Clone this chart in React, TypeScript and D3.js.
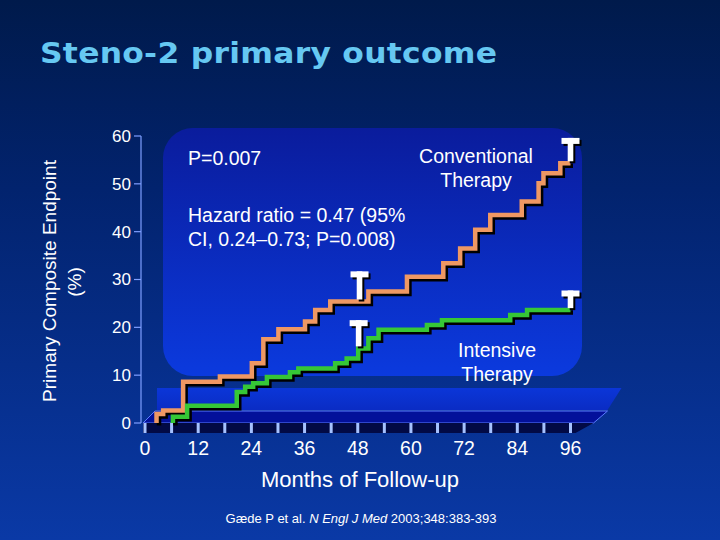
import * as d3 from 'd3';

// Kaplan-Meier style step data
const conventionalMonths = [2.6, 4.1, 8.6, 16.9, 24.1, 26.7, 30.1, 36.1, 38.4, 41.8, 50.4, 59.1, 67.3, 71.1, 74.5, 77.9, 85.0, 88.8, 89.9, 93.7];
const conventionalValues = [1.9, 2.6, 8.6, 9.7, 12.5, 17.5, 19.6, 21.2, 23.6, 25.4, 27.5, 30.6, 33.4, 36.5, 40.4, 43.5, 46.3, 50.1, 52.2, 54.3];
const intensiveMonths = [6.3, 9.5, 20.7, 22.6, 24.4, 27.5, 32.7, 34.6, 42.9, 45.5, 48.1, 50.4, 52.7, 63.6, 67.0, 82.4, 86.2];
const intensiveValues = [1.3, 3.6, 6.5, 7.6, 8.3, 9.6, 10.6, 11.4, 12.5, 13.5, 15.6, 17.7, 19.5, 20.5, 21.5, 22.6, 23.6];
const followUpEnd = 96;

// white "T" marks: month and the top of the bar (%)
const conventionalMarkMonths = [48.4, 96];
const conventionalMarkTops = [31.7, 59.6];
const intensiveMarkMonths = [48.2, 96];
const intensiveMarkTops = [21.5, 27.7];

const yTicks = [0, 10, 20, 30, 40, 50, 60];
const xTicks = [0, 12, 24, 36, 48, 60, 72, 84, 96];

const W = 720;
const H = 540;

const x = d3.scaleLinear().domain([0, 96]).range([145, 570.5]);
const y = d3.scaleLinear().domain([0, 60]).range([423, 136]);

const font = '"Liberation Sans", Arial, sans-serif';
const orange = '#ef9863';
const green = '#36c736';
const axisBlue = '#7f9fff';

const stepLine = d3.line<[number, number]>()
  .x((d) => x(d[0]))
  .y((d) => y(d[1]))
  .curve(d3.curveStepAfter);

const buildPoints = (months: number[], values: number[]): [number, number][] => {
  const pts: [number, number][] = [[months[0], 0]];
  months.forEach((m, i) => pts.push([m, values[i]]));
  pts.push([followUpEnd, values[values.length - 1]]);
  return pts;
};

const valueAt = (months: number[], values: number[], m: number) => {
  const i = d3.bisectRight(months, m) - 1;
  return i < 0 ? 0 : values[i];
};

const Curve = ({ months, values, color }: { months: number[]; values: number[]; color: string }) => {
  const d = stepLine(buildPoints(months, values)) || '';
  return (
    <g>
      <path d={d} transform="translate(2.5,2.5)" fill="none" stroke="#000" strokeWidth={4.5} />
      <path d={d} fill="none" stroke={color} strokeWidth={4.5} strokeLinejoin="miter" />
    </g>
  );
};

const Marks = ({ months, tops, lineMonths, lineValues }: { months: number[]; tops: number[]; lineMonths: number[]; lineValues: number[] }) => (
  <g>
    {months.map((m, i) => {
      const cx = x(m);
      const yTop = y(tops[i]);
      const yBottom = y(valueAt(lineMonths, lineValues, m)) - 2;
      const shape = (
        <>
          <rect x={cx - 2.8} y={yTop} width={5.6} height={yBottom - yTop} />
          <rect x={cx - 9} y={yTop} width={18} height={6} />
        </>
      );
      return (
        <g key={i}>
          <g fill="#000" transform="translate(2,2)">{shape}</g>
          <g fill="#fff">{shape}</g>
        </g>
      );
    })}
  </g>
);

export default function App() {
  const x0 = x(0);
  const x96 = x(96);
  const y0 = y(0);

  return (
    <svg width={W} height={H} style={{ position: 'absolute', left: 0, top: 0, display: 'block' }}>
      <defs>
        <linearGradient id="bg" x1="0" y1="0" x2="0" y2="1">
          <stop offset="0" stopColor="#001a4b" />
          <stop offset="0.35" stopColor="#02236e" />
          <stop offset="1" stopColor="#0a39a6" />
        </linearGradient>
        <linearGradient id="panel" x1="0" y1="0" x2="0" y2="1">
          <stop offset="0" stopColor="#0a1c9c" />
          <stop offset="1" stopColor="#0b3ade" />
        </linearGradient>
        <linearGradient id="band" x1="0" y1="0" x2="0" y2="1">
          <stop offset="0" stopColor="#0b36d8" />
          <stop offset="1" stopColor="#0a2cc4" />
        </linearGradient>
      </defs>

      <rect width={W} height={H} fill="url(#bg)" />

      {/* rounded back panel */}
      <rect x={163} y={128} width={419} height={248} rx={30} fill="url(#panel)" />

      {/* back wall band behind the floor */}
      <path d={`M${x0 + 12},388 L${x96 + 51},388 L${x96 + 37},410 L${x0 + 12},410 Z`} fill="url(#band)" />

      {/* floor: top face */}
      <path
        d={`M${x0 - 2},${y0} L${x0 + 10},${y0 - 12} L${x96 + 37},${y0 - 12} L${x96 + 23},${y0} Z`}
        fill="#03109a"
        stroke="#5c7cff"
        strokeWidth={1}
      />
      {/* floor: front and side faces */}
      <path d={`M${x0 - 2},${y0} L${x96 + 23},${y0} L${x96 + 5},${y0 + 10} L${x0 - 2},${y0 + 10} Z`} fill="#020a45" />
      {d3.range(0, 97, 6).map((m) => (
        <rect key={m} x={x(m) - 1.5} y={y0} width={3} height={10} fill="#a6c2ff" />
      ))}

      {/* y axis */}
      <line x1={141} x2={141} y1={y(60)} y2={y0} stroke={axisBlue} strokeWidth={1.2} />
      {yTicks.map((t) => (
        <g key={t}>
          <line x1={134} x2={141} y1={y(t)} y2={y(t)} stroke={axisBlue} strokeWidth={1.2} />
          <text x={131} y={y(t)} dy="0.35em" textAnchor="end" fill="#fff" fontFamily={font} fontSize={17}>
            {t}
          </text>
        </g>
      ))}

      {/* x tick labels */}
      {xTicks.map((t) => (
        <text key={t} x={x(t)} y={455} textAnchor="middle" fill="#fff" fontFamily={font} fontSize={19.5}>
          {t}
        </text>
      ))}

      {/* curves */}
      <Curve months={conventionalMonths} values={conventionalValues} color={orange} />
      <Curve months={intensiveMonths} values={intensiveValues} color={green} />
      <Marks months={conventionalMarkMonths} tops={conventionalMarkTops} lineMonths={conventionalMonths} lineValues={conventionalValues} />
      <Marks months={intensiveMarkMonths} tops={intensiveMarkTops} lineMonths={intensiveMonths} lineValues={intensiveValues} />

      {/* title, stretched a little to get the Verdana width */}
      <text
        transform="translate(40,63) scale(1.1,1)"
        fill="#66c8f2"
        fontFamily='"DejaVu Sans", Verdana, sans-serif'
        fontWeight="bold"
        fontSize={28.5}
        textLength={457 / 1.1}
        lengthAdjust="spacing"
      >
        Steno-2 primary outcome
      </text>

      {/* y axis title */}
      <text transform="translate(56,281) rotate(-90)" textAnchor="middle" fill="#fff" fontFamily={font} fontSize={19}>
        Primary Composite Endpoint
      </text>
      <text transform="translate(81,282) rotate(-90)" textAnchor="middle" fill="#fff" fontFamily={font} fontSize={19}>
        (%)
      </text>

      {/* annotations */}
      <g fill="#fff" fontFamily={font} fontSize={19.5}>
        <text x={188} y={165}>P=0.007</text>
        <text x={188} y={222}>Hazard ratio = 0.47 (95%</text>
        <text x={188} y={246}>CI, 0.24–0.73; P=0.008)</text>
        <text x={476} y={163} textAnchor="middle">Conventional</text>
        <text x={476} y={187} textAnchor="middle">Therapy</text>
        <text x={497} y={357} textAnchor="middle">Intensive</text>
        <text x={497} y={381} textAnchor="middle">Therapy</text>
      </g>

      {/* x axis title */}
      <text x={360} y={487} textAnchor="middle" fill="#fff" fontFamily={font} fontSize={22}>
        Months of Follow-up
      </text>

      {/* citation */}
      <text x={361} y={523} textAnchor="middle" fill="#fff" fontFamily={font} fontSize={13}>
        Gæde P et al. <tspan fontStyle="italic">N Engl J Med</tspan> 2003;348:383-393
      </text>
    </svg>
  );
}
